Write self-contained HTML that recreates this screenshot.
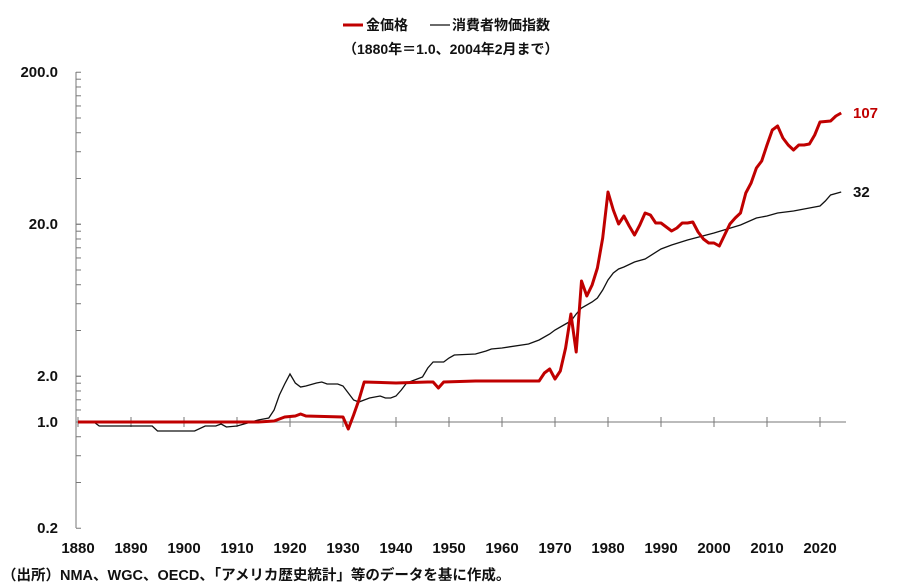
<!DOCTYPE html><html><head><meta charset="utf-8"><style>body{margin:0;background:#fff}svg{display:block}text{font-family:"Liberation Sans","Noto Sans CJK JP",sans-serif;font-weight:bold;fill:#111}</style></head><body>
<svg width="900" height="587" viewBox="0 0 900 587" xmlns="http://www.w3.org/2000/svg">
<line x1="343" y1="25" x2="363" y2="25" stroke="#c00000" stroke-width="3"/>
<text x="366" y="30" font-size="14">金価格</text>
<line x1="430" y1="25" x2="450" y2="25" stroke="#111" stroke-width="1.2"/>
<text x="452" y="30" font-size="14">消費者物価指数</text>
<text x="343" y="54" font-size="14">（1880年＝1.0、2004年2月まで）</text>
<g font-size="15" text-anchor="end"><text x="58" y="77">200.0</text><text x="58" y="229">20.0</text><text x="58" y="381">2.0</text><text x="58" y="427">1.0</text><text x="58" y="533">0.2</text></g>
<g stroke="#777" stroke-width="1" fill="none">
<line x1="76" y1="72" x2="76" y2="528"/>
<line x1="76" y1="422" x2="846" y2="422"/>
</g>
<g stroke="#777" stroke-width="1" id="ticks"></g>
<g font-size="15" text-anchor="middle" id="xl"></g>
<text x="2" y="580" font-size="14.5">（出所）NMA、WGC、OECD、「アメリカ歴史統計」等のデータを基に作成。</text>
<polyline id="cpi" fill="none" stroke="#111" stroke-width="1.3"/>
<polyline id="gold" fill="none" stroke="#c00000" stroke-width="3" stroke-linejoin="round"/>
<text x="853" y="118" font-size="15" style="fill:#c00000">107</text>
<text x="853" y="197" font-size="15">32</text>
<script>
var X=y=>78+(y-1880)*5.3,ns="http://www.w3.org/2000/svg";
var t=document.getElementById('ticks'),xl=document.getElementById('xl');
function Y(v){return 422-Math.log10(v)*152;}
var vals=[];[0.2,2,20].forEach(b=>{for(var k=1;k<=10;k++)vals.push(b*k);});
vals.forEach(v=>{var l=document.createElementNS(ns,'line');l.setAttribute('x1',76);l.setAttribute('x2',81);l.setAttribute('y1',Y(v));l.setAttribute('y2',Y(v));t.appendChild(l);});
for(var yr=1880;yr<=2020;yr+=10){var l=document.createElementNS(ns,'line');l.setAttribute('x1',X(yr));l.setAttribute('x2',X(yr));l.setAttribute('y1',417);l.setAttribute('y2',427);t.appendChild(l);
var tx=document.createElementNS(ns,'text');tx.setAttribute('x',X(yr));tx.setAttribute('y',553);tx.textContent=yr;xl.appendChild(tx);}
var g=[[1880,422],[1914,422],[1917,421],[1919,417],[1921,416],[1922,414],[1923,416],[1930,417],[1931,429],[1932,415],[1933,400],[1934,382],[1940,383],[1946,382],[1947,382],[1948,388],[1949,382],[1955,381],[1967,381],[1968,373],[1969,369],[1970,379],[1971,371],[1972,348],[1973,314],[1974,352],[1975,281],[1976,296],[1977,285],[1978,268],[1979,238],[1980,192],[1981,210],[1982,224],[1983,216],[1984,226],[1985,235],[1986,225],[1987,213],[1988,215],[1989,223],[1990,223],[1991,227],[1992,231],[1993,228],[1994,223],[1995,223],[1996,222],[1997,232],[1998,239],[1999,243],[2000,243],[2001,246],[2002,235],[2003,224],[2004,218],[2005,213],[2006,193],[2007,183],[2008,168],[2009,161],[2010,145],[2011,130],[2012,126],[2013,138],[2014,145],[2015,150],[2016,145],[2017,145],[2018,144],[2019,135],[2020,122],[2022,121],[2023,116],[2024,113]];
var c=[[1880,422],[1883,422],[1884,426],[1894,426],[1895,431],[1902,431],[1904,426],[1906,426],[1907,424],[1908,427],[1910,426],[1912,423],[1914,420],[1916,418],[1917,410],[1918,395],[1919,384],[1920,374],[1921,383],[1922,387],[1923,386],[1925,383],[1926,382],[1927,384],[1929,384],[1930,386],[1931,393],[1932,400],[1933,402],[1934,400],[1935,398],[1937,396],[1938,398],[1939,398],[1940,396],[1941,390],[1942,383],[1943,381],[1944,379],[1945,377],[1946,368],[1947,362],[1949,362],[1950,358],[1951,355],[1955,354],[1957,351],[1958,349],[1960,348],[1965,344],[1967,340],[1969,334],[1970,330],[1972,324],[1973,321],[1974,314],[1975,308],[1977,302],[1978,298],[1979,290],[1980,280],[1981,273],[1982,269],[1983,267],[1985,262],[1987,259],[1990,249],[1992,245],[1995,240],[2000,233],[2005,225],[2008,218],[2010,216],[2012,213],[2015,211],[2018,208],[2020,206],[2021,201],[2022,195],[2024,192]];
document.getElementById('gold').setAttribute('points',g.map(p=>X(p[0])+','+p[1]).join(' '));
document.getElementById('cpi').setAttribute('points',c.map(p=>X(p[0])+','+p[1]).join(' '));
</script>
</svg></body></html>
